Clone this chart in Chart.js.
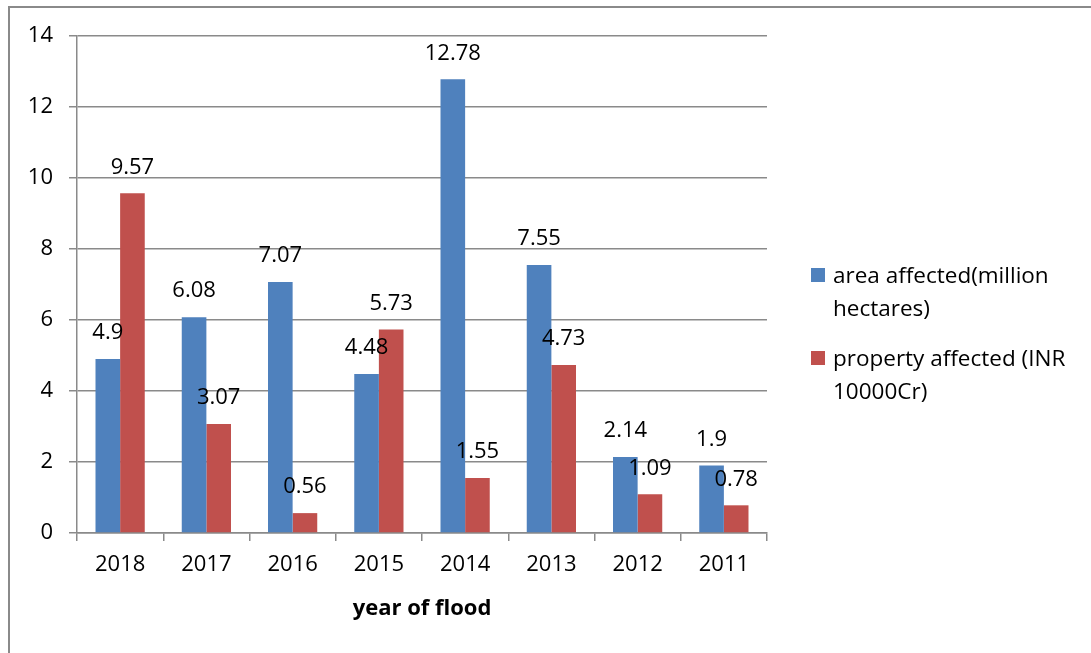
<!DOCTYPE html>
<html>
<head>
<meta charset="utf-8">
<script src="https://cdn.jsdelivr.net/npm/chart.js@4/dist/chart.umd.min.js"></script>
<style>
  html, body { margin: 0; padding: 0; background: #fff; }
  #wrap { position: relative; width: 1091px; height: 653px; overflow: hidden; }
  #frame { position: absolute; left: 8px; top: 6px; width: 1200px; height: 700px;
           border-top: 2px solid #8a8a8a; border-left: 2px solid #8a8a8a; }
  #chartBox { position: absolute; left: 0; top: 0; width: 1091px; height: 653px; }
  #legend { position: absolute; left: 811px; top: 258px; font-family: "Open Sans", sans-serif;
            font-size: 22.5px; color: #000; white-space: nowrap; }
  .item { position: relative; padding-left: 22px; line-height: 33px; margin-bottom: 17px; }
  .swatch { position: absolute; left: 0; top: 10px; width: 14px; height: 14px; }
</style>
</head>
<body>
<div id="wrap">
  <div id="frame"></div>
  <div id="chartBox"><canvas id="floodChart"></canvas></div>
  <div id="legend"></div>
</div>
<script>
// Flood data, by year
const years = ['2018', '2017', '2016', '2015', '2014', '2013', '2012', '2011'];
const areaAffected = [4.9, 6.08, 7.07, 4.48, 12.78, 7.55, 2.14, 1.9];
const propertyAffected = [9.57, 3.07, 0.56, 5.73, 1.55, 4.73, 1.09, 0.78];
const seriesLabels = [['area affected(million', 'hectares)'], ['property affected (INR', '10000Cr)']];
const yTicks = [0, 2, 4, 6, 8, 10, 12, 14];

const FONT = '"Open Sans", sans-serif';
const GRID = '#8a8a8a';

// Draw value labels above each bar
const barLabels = {
    id: 'barLabels',
    afterDatasetsDraw(chart) {
        const ctx = chart.ctx;
        ctx.save();
        ctx.font = '22px ' + FONT;
        ctx.fillStyle = '#000';
        ctx.textAlign = 'center';
        ctx.textBaseline = 'middle';
        chart.data.datasets.forEach((ds, i) => {
            chart.getDatasetMeta(i).data.forEach((bar, j) => {
                ctx.fillText(String(ds.data[j]), bar.x, bar.y - 26);
            });
        });
        ctx.restore();
    }
};

const chart = new Chart(document.getElementById('floodChart'), {
    type: 'bar',
    data: {
        labels: years,
        datasets: [
            {
                label: seriesLabels[0].join(' '),
                data: areaAffected,
                backgroundColor: '#4f81bd',
                categoryPercentage: 0.571,
                barPercentage: 1
            },
            {
                label: seriesLabels[1].join(' '),
                data: propertyAffected,
                backgroundColor: '#c0504d',
                categoryPercentage: 0.571,
                barPercentage: 1
            }
        ]
    },
    options: {
        responsive: true,
        maintainAspectRatio: false,
        animation: false,
        layout: { padding: { top: 36, right: 324, left: 0, bottom: 0 } },
        plugins: {
            legend: { display: false },
            tooltip: { enabled: false }
        },
        scales: {
            y: {
                min: 0,
                max: 14,
                afterFit: s => { s.width = 77; },
                afterBuildTicks: s => { s.ticks = yTicks.map(v => ({ value: v })); },
                grid: { color: GRID, lineWidth: 1.5, tickLength: 8 },
                border: { color: GRID, width: 1.5 },
                ticks: { color: '#000', padding: 16, font: { family: FONT, size: 22 } }
            },
            x: {
                afterFit: s => { s.height = 120; },
                grid: { drawOnChartArea: false, color: GRID, lineWidth: 1.5, tickLength: 8 },
                border: { color: GRID, width: 1.5 },
                ticks: { color: '#000', padding: 11, font: { family: FONT, size: 22 } },
                title: {
                    display: true,
                    text: 'year of flood',
                    color: '#000',
                    font: { family: FONT, size: 22, weight: 'bold' },
                    padding: { top: 0, bottom: 31 }
                }
            }
        }
    },
    plugins: [barLabels]
});

// HTML legend with wrapped labels
const legend = document.getElementById('legend');
chart.data.datasets.forEach((ds, i) => {
    const item = document.createElement('div');
    item.className = 'item';
    item.innerHTML = '<span class="swatch" style="background:' + ds.backgroundColor + '"></span>' +
        seriesLabels[i].join('<br>');
    legend.appendChild(item);
});
</script>
</body>
</html>
